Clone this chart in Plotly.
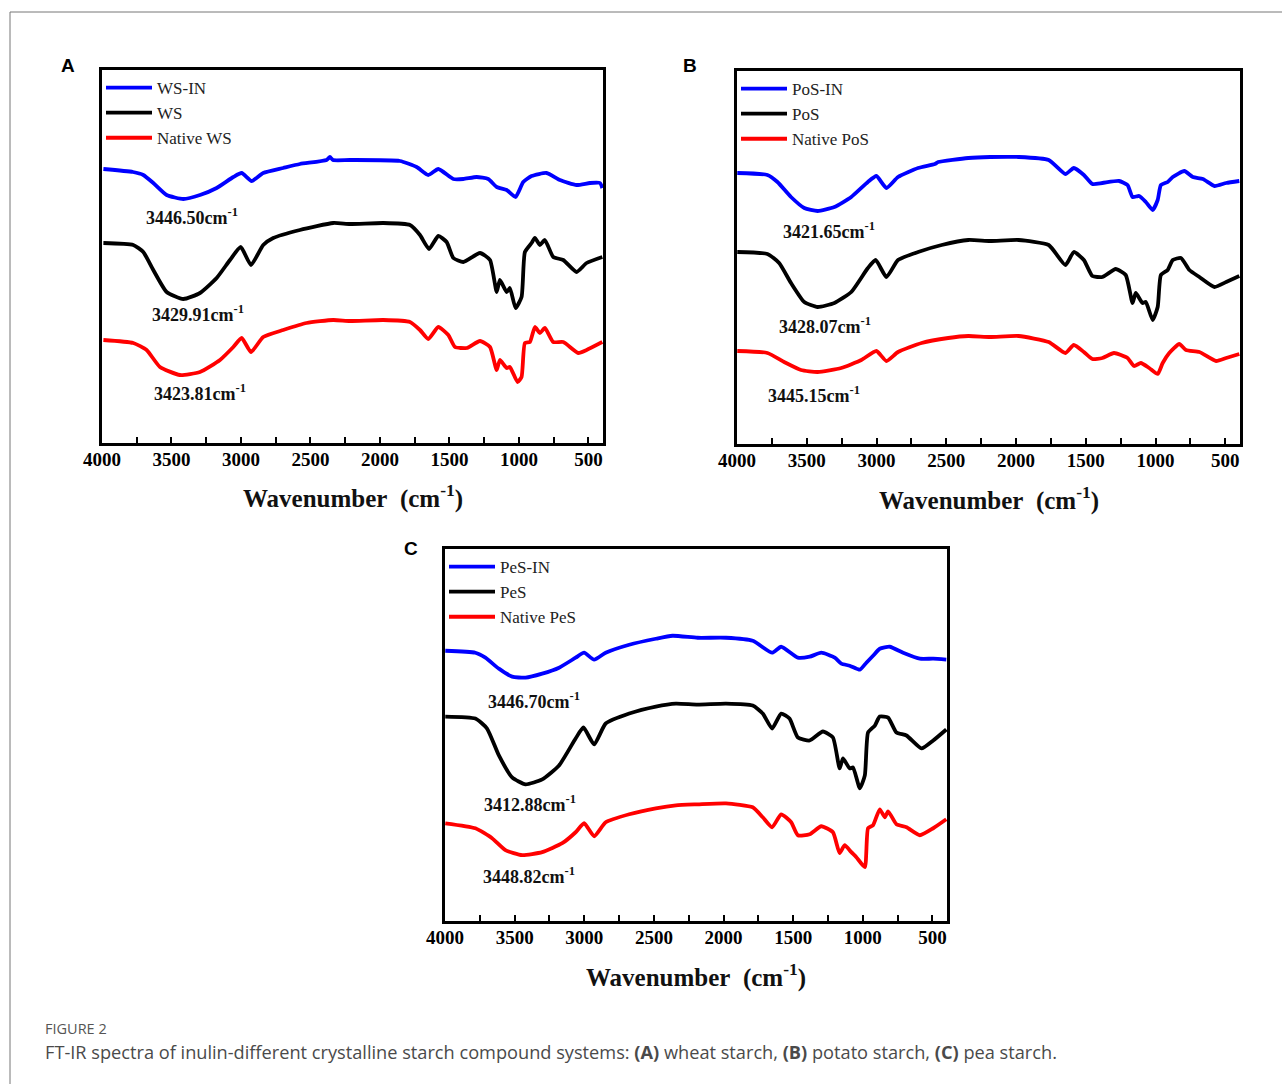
import plotly.graph_objects as go

# ---------------- DATA (wavenumber cm-1, transmittance a.u.) ----------------
# Panel A: wheat starch
A_WSIN_x = [3990, 3777, 3703, 3631, 3535, 3415, 3295, 3175, 3055, 2995, 2923, 2840, 2696, 2576, 2384, 2360, 2338,
            2216, 1856, 1736, 1652, 1580, 1472, 1400, 1304, 1221, 1160, 1088, 1024, 969, 909, 801, 705, 585, 489, 417, 400]
A_WSIN_y = [274, 271, 268, 260, 248, 244, 248, 255, 266, 270, 262, 270, 275, 279, 283, 286, 283,
            283, 282, 276, 268, 274, 264, 264, 266, 264, 256, 253, 246, 261, 267, 270, 263, 258, 260, 260, 255]
A_WS_x = [3990, 3775, 3703, 3631, 3535, 3415, 3295, 3175, 3079, 3002, 2928, 2840, 2768, 2576, 2336, 2216, 1976,
          1784, 1712, 1647, 1580, 1520, 1472, 1400, 1280, 1208, 1160, 1137, 1088, 1065, 1024, 981, 957, 909, 885,
          849, 813, 753, 681, 585, 513, 400]
A_WS_y = [200, 198, 191, 173, 151, 144, 150, 165, 183, 196, 178, 198, 205, 213, 220, 219, 220,
          218, 208, 194, 207, 201, 185, 181, 190, 183, 151, 163, 151, 155, 135, 146, 191, 200, 205,
          198, 203, 186, 183, 171, 180, 186]
A_NWS_x = [3990, 3775, 3679, 3583, 3439, 3295, 3151, 3055, 2995, 2928, 2840, 2696, 2528, 2336, 2216, 1976, 1784,
           1712, 1652, 1580, 1508, 1460, 1376, 1280, 1208, 1160, 1137, 1088, 1065, 1010, 981, 957, 921, 885, 849,
           813, 753, 681, 573, 513, 400]
A_NWS_y = [103, 100, 93, 76, 68, 71, 83, 96, 105, 91, 106, 113, 120, 123, 122, 123, 121,
           113, 104, 116, 108, 96, 95, 102, 96, 73, 83, 75, 76, 61, 66, 100, 101, 116, 110,
           115, 101, 101, 90, 93, 101]

# Panel B: potato starch
B_PoSIN_x = [3998, 3782, 3710, 3613, 3518, 3422, 3302, 3181, 3062, 3001, 2929, 2846, 2702, 2582, 2558, 2342, 2186,
             1982, 1766, 1646, 1586, 1514, 1453, 1381, 1262, 1201, 1165, 1118, 1070, 1021, 985, 962, 913, 877, 794,
             733, 661, 578, 494, 400]
B_PoSIN_y = [271, 269, 262, 247, 236, 233, 237, 247, 262, 268, 256, 267, 276, 280, 282, 286, 287,
             287, 284, 270, 276, 269, 260, 261, 263, 259, 247, 248, 242, 234, 244, 259, 262, 267, 273,
             267, 265, 258, 261, 263]
B_PoS_x = [3998, 3782, 3698, 3613, 3518, 3422, 3302, 3181, 3062, 3006, 2929, 2846, 2702, 2533, 2342, 2186,
           1982, 1766, 1646, 1586, 1514, 1453, 1381, 1286, 1214, 1165, 1142, 1094, 1070, 1021, 985, 962, 913, 877,
           818, 758, 686, 578, 494, 400]
B_PoS_y = [192, 190, 181, 161, 142, 137, 141, 152, 176, 184, 167, 184, 192, 199, 204, 203,
           204, 199, 179, 192, 184, 168, 167, 175, 169, 141, 151, 141, 142, 124, 137, 169, 174, 184,
           186, 174, 167, 157, 162, 168]
B_NPoS_x = [3998, 3782, 3662, 3541, 3422, 3253, 3109, 3001, 2929, 2846, 2677, 2486, 2342, 2186,
            1982, 1766, 1646, 1586, 1514, 1453, 1381, 1298, 1201, 1154, 1106, 1046, 985, 949, 902, 830,
            782, 686, 566, 494, 400]
B_NPoS_y = [93, 91, 82, 74, 72, 76, 84, 93, 83, 92, 101, 106, 108, 107,
            108, 102, 91, 99, 92, 85, 86, 91, 86, 78, 81, 76, 70, 81, 91, 100,
            94, 92, 83, 86, 90]

# Panel C: pea starch
C_PeSIN_x = [3998, 3782, 3710, 3613, 3518, 3422, 3302, 3181, 3062, 3001, 2929, 2846, 2677, 2486, 2366, 2186,
             1982, 1790, 1651, 1586, 1466, 1381, 1298, 1201, 1154, 1094, 1021, 974, 926, 878, 806, 710, 590,
             494, 400]
C_PeSIN_y = [271, 269, 264, 253, 245, 244, 248, 254, 264, 269, 262, 269, 277, 283, 286, 284,
             284, 281, 269, 275, 264, 265, 269, 264, 258, 256, 252, 259, 266, 273, 275, 269, 263,
             263, 262]
C_PeS_x = [3998, 3782, 3698, 3613, 3518, 3422, 3302, 3181, 3062, 3006, 2929, 2846, 2677, 2486, 2342, 2186,
           1982, 1790, 1718, 1651, 1586, 1526, 1466, 1381, 1286, 1214, 1166, 1142, 1094, 1070, 1021, 985, 962,
           913, 878, 818, 758, 686, 578, 494, 400]
C_PeS_y = [205, 203, 193, 166, 144, 137, 142, 156, 183, 194, 177, 198, 208, 215, 218, 217,
           218, 216, 208, 193, 208, 203, 184, 181, 190, 184, 153, 163, 153, 154, 133, 146, 189,
           196, 205, 204, 189, 186, 173, 181, 192]
C_NPeS_x = [3998, 3782, 3662, 3566, 3446, 3302, 3158, 3062, 3001, 2929, 2846, 2677, 2486, 2342, 2186,
            1982, 1790, 1718, 1651, 1586, 1514, 1466, 1381, 1298, 1214, 1166, 1130, 1082, 1046, 985, 962,
            926, 878, 842, 818, 758, 686, 590, 494, 400]
C_NPeS_y = [98, 93, 83, 71, 66, 69, 78, 89, 98, 85, 99, 107, 113, 116, 117,
            118, 114, 104, 94, 107, 99, 86, 87, 95, 89, 68, 76, 69, 64, 54, 93,
            96, 112, 104, 110, 97, 94, 86, 93, 102]

PANELS = ["A", "B", "C"]
SERIES = {
    "A": [("WS-IN", A_WSIN_x, A_WSIN_y), ("WS", A_WS_x, A_WS_y), ("Native WS", A_NWS_x, A_NWS_y)],
    "B": [("PoS-IN", B_PoSIN_x, B_PoSIN_y), ("PoS", B_PoS_x, B_PoS_y), ("Native PoS", B_NPoS_x, B_NPoS_y)],
    "C": [("PeS-IN", C_PeSIN_x, C_PeSIN_y), ("PeS", C_PeS_x, C_PeS_y), ("Native PeS", C_NPeS_x, C_NPeS_y)],
}
PEAK_LABELS = {
    "A": [("3446.50", 3353, 227), ("3429.91", 3309, 130), ("3423.81", 3295, 51)],
    "B": [("3421.65", 3338, 214), ("3428.07", 3366, 119), ("3445.15", 3446, 50)],
    "C": [("3446.70", 3359, 221), ("3412.88", 3388, 118), ("3448.82", 3395, 46)],
}
TICK_VALS = [4000, 3500, 3000, 2500, 2000, 1500, 1000, 500]
MINOR_VALS = [3750, 3250, 2750, 2250, 1750, 1250, 750]
COLORS = ["#0000ff", "#000000", "#ff0000"]

# ---------------- LAYOUT ----------------
W, H = 1282, 1084
# plot boxes in pixels: (left, right, top, bottom)
BOX = {"A": (102, 603, 70, 443), "B": (737, 1240, 71, 444), "C": (445, 947, 549, 921)}
AX = {"A": ("x", "y", "xaxis", "yaxis", "legend"),
      "B": ("x2", "y2", "xaxis2", "yaxis2", "legend2"),
      "C": ("x3", "y3", "xaxis3", "yaxis3", "legend3")}

SERIF = "Liberation Serif"
fig = go.Figure()
layout = dict(width=W, height=H, margin=dict(l=0, r=0, t=0, b=0, pad=0, autoexpand=False),
              paper_bgcolor="white", plot_bgcolor="white", showlegend=True)
annotations = []

for p in PANELS:
    xr, yr, xk, yk, lk = AX[p]
    l, r, t, b = BOX[p]
    for (name, xs, ys), c in zip(SERIES[p], COLORS):
        fig.add_trace(go.Scatter(x=xs, y=ys, mode="lines", name=name, xaxis=xr, yaxis=yr,
                                 line=dict(color=c, width=3.8, shape="spline", smoothing=0.5),
                                 legend=lk, hoverinfo="skip"))
    layout[xk] = dict(domain=[l / W, r / W], range=[4000, 395], anchor=yr, automargin=False,
                      showline=True, mirror=True, linecolor="black", linewidth=3,
                      showgrid=False, zeroline=False,
                      tickmode="array", tickvals=TICK_VALS,
                      ticks="inside", ticklen=6, tickwidth=2, tickcolor="black",
                      ticklabelstandoff=-3,
                      minor=dict(tickvals=MINOR_VALS, ticks="inside",
                                 ticklen=6, tickwidth=2, tickcolor="black"),
                      tickfont=dict(family=SERIF, size=19, color="black", weight="bold"))
    layout[yk] = dict(domain=[1 - b / H, 1 - t / H], range=[0, 373], anchor=xr, automargin=False,
                      showline=True, mirror=True, linecolor="black", linewidth=3,
                      showgrid=False, zeroline=False, showticklabels=False, ticks="")
    layout[lk] = dict(x=(l - 1) / W, y=1 - t / H, xanchor="left", yanchor="top",
                      bgcolor="rgba(0,0,0,0)", borderwidth=0, itemwidth=46, tracegroupgap=0,
                      font=dict(family=SERIF, size=17, color="#222"))
    # peak labels
    for (lab, xv, yv) in PEAK_LABELS[p]:
        annotations.append(dict(x=xv, y=yv, xref=xr, yref=yr, showarrow=False,
                                xanchor="center", yanchor="middle",
                                text=f"<b>{lab}cm<sup>-1</sup></b>",
                                font=dict(family=SERIF, size=18, color="#111")))
    # axis title
    annotations.append(dict(x=((l + r) / 2) / W, y=1 - (b + 54) / H, xref="paper", yref="paper",
                            xanchor="center", yanchor="middle",
                            showarrow=False, text="<b>Wavenumber&nbsp; (cm<sup>-1</sup>)</b>",
                            font=dict(family=SERIF, size=25, color="#111")))

# panel letters
for letter, px, py in [("A", 68, 65), ("B", 690, 65), ("C", 411, 548)]:
    annotations.append(dict(x=px / W, y=1 - py / H, xref="paper", yref="paper", showarrow=False,
                            xanchor="center", yanchor="middle",
                            text=f"<b>{letter}</b>",
                            font=dict(family="Liberation Sans", size=19, color="black")))

# caption
annotations.append(dict(x=43 / W, y=1 - 1028 / H, xref="paper", yref="paper",
                        xanchor="left", yanchor="middle",
                        showarrow=False, text="FIGURE 2",
                        font=dict(family="Open Sans", size=14.5, color="#555")))
annotations.append(dict(x=43 / W, y=1 - 1052 / H, xref="paper", yref="paper",
                        xanchor="left", yanchor="middle",
                        showarrow=False,
                        text="FT-IR spectra of inulin-different crystalline starch compound systems: "
                             "<b>(A)</b> wheat starch, <b>(B)</b> potato starch, <b>(C)</b> pea starch.",
                        font=dict(family="Open Sans", size=18.2, color="#4a4a4a")))

layout["annotations"] = annotations
layout["shapes"] = [dict(type="rect", xref="paper", yref="paper",
                         x0=10 / W, x1=1.05, y0=-0.05, y1=1 - 12 / H,
                         line=dict(color="#777", width=1))]
fig.update_layout(**layout)
fig.write_html("out.html")
